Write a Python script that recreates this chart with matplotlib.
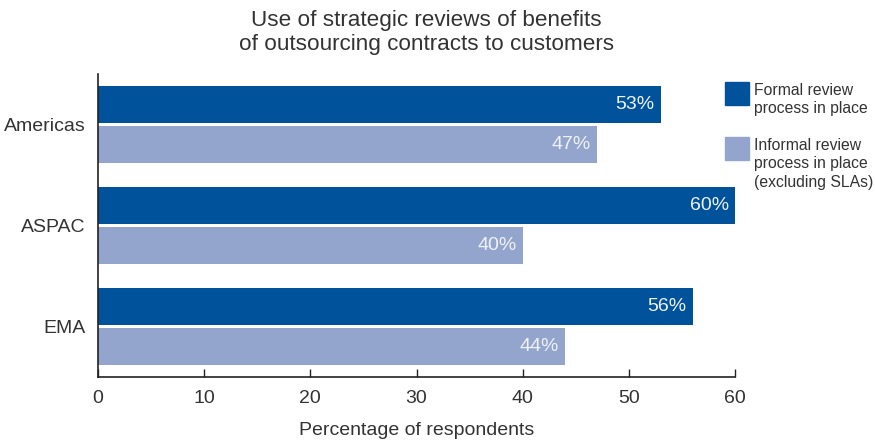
import numpy as np
import matplotlib.pyplot as plt
from matplotlib.patches import Rectangle

plt.rcParams['font.family'] = ['Liberation Sans', 'DejaVu Sans']

regions = ['Americas', 'ASPAC', 'EMA']
formal = [53, 60, 56]
informal = [47, 40, 44]
series_names = ['Formal review\nprocess in place',
                'Informal review\nprocess in place\n(excluding SLAs)']

dark = '#00529b'
light = '#93a4cd'
txt = '#333333'

fig = plt.figure(figsize=(8.75, 4.41), dpi=100)
ax = fig.add_axes([0.112, 0.1451, 0.728, 0.6871])

y = np.arange(len(regions))
h = 0.37
ax.barh(y - 0.2, formal, height=h, color=dark)
ax.barh(y + 0.2, informal, height=h, color=light)

for yi, v in zip(y, formal):
    ax.text(v - 0.6, yi - 0.2, f'{v}%', ha='right', va='center',
            color='#f0f2f8', fontsize=14)
for yi, v in zip(y, informal):
    ax.text(v - 0.6, yi + 0.2, f'{v}%', ha='right', va='center',
            color='#f0f2f8', fontsize=14)

ax.set_xlim(0, 60)
ax.set_ylim(2.5, -0.5)
ax.set_yticks(y)
ax.set_yticklabels(regions)
ax.set_xticks(np.arange(0, 61, 10))
ax.tick_params(axis='y', length=0, pad=9, labelsize=14, labelcolor=txt)
ax.tick_params(axis='x', direction='in', length=6, width=1, color='#222222',
               pad=9, labelsize=14, labelcolor=txt)
for s in ['top', 'right']:
    ax.spines[s].set_visible(False)
for s in ['left', 'bottom']:
    ax.spines[s].set_color('#222222')
    ax.spines[s].set_linewidth(1.2)
ax.set_xlabel('Percentage of respondents', fontsize=14, color=txt, labelpad=11)

fig.text(0.487, 0.977, 'Use of strategic reviews of benefits\nof outsourcing contracts to customers',
         ha='center', va='top', fontsize=16.2, color=txt, linespacing=1.15)

# legend drawn by hand so the swatches line up with the first text line
for i, (name, col) in enumerate(zip(series_names, [dark, light])):
    top = 0.814 - i * 0.125
    fig.add_artist(Rectangle((0.829, top - 0.052), 0.027, 0.052,
                             transform=fig.transFigure, color=col))
    fig.text(0.862, top - 0.002, name, ha='left', va='top', fontsize=11.3,
             color=txt, linespacing=1.28)

fig.savefig('out.png', dpi=100)
